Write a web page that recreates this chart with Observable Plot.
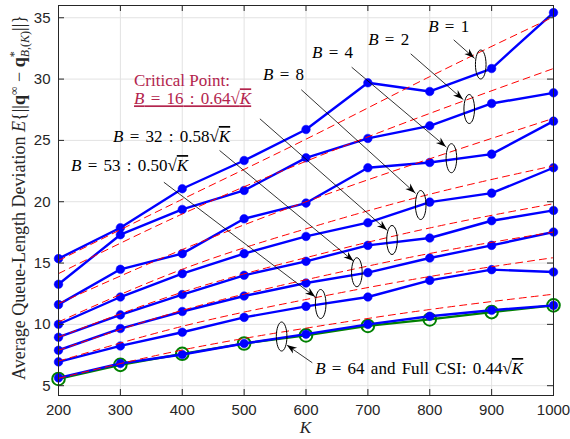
<!DOCTYPE html>
<html><head><meta charset="utf-8">
<script src="https://cdn.jsdelivr.net/npm/d3@7"></script>
<script src="https://cdn.jsdelivr.net/npm/@observablehq/plot@0.6"></script>
<style>
html,body{margin:0;padding:0;background:#fff;}
#chart svg{display:block;}
</style>
</head><body><div id="chart"></div>
<script>
// ---- data ----
const K = [200, 300, 400, 500, 600, 700, 800, 900, 1000];
const B1  = [15.36, 17.88, 21.06, 23.36, 25.89, 29.70, 28.99, 30.86, 35.42];
const B2  = [13.27, 17.31, 19.37, 20.92, 23.58, 25.16, 26.19, 28.01, 28.88];
const B4  = [11.61, 14.49, 15.77, 18.61, 19.89, 22.77, 23.20, 23.88, 26.57];
const B8  = [10.01, 12.23, 14.14, 15.77, 17.17, 18.29, 19.97, 20.70, 22.77];
const B16 = [8.95, 10.77, 12.43, 14.00, 15.14, 16.44, 17.04, 18.45, 19.29];
const B32 = [7.89, 9.66, 11.05, 12.31, 13.37, 14.22, 15.41, 16.44, 17.53];
const B53 = [6.94, 8.24, 9.36, 10.57, 11.47, 12.23, 13.59, 14.46, 14.27];
const B64 = [5.64, 6.81, 7.54, 8.44, 9.20, 10.00, 10.66, 11.15, 11.55];
const fullCSI = [5.55, 6.70, 7.60, 8.44, 9.10, 9.87, 10.40, 11.00, 11.55];
const seriesNames = ["B=1", "B=2", "B=4", "B=8", "B=16", "B=32", "B=53", "B=64"];
const seriesValues = [B1, B2, B4, B8, B16, B32, B53, B64];

// red dashed reference curves (values read at these K)
const fitK = [200, 400, 600, 800, 1000];
const fit1 = [15.2, 20.2, 25.1, 30.2, 35.07];
const fit2 = [14.14, 19.0, 23.3, 27.2, 30.86];
const fit3 = [11.7, 16.1, 20.0, 23.5, 26.8];
const fit4 = [10.2, 14.49, 17.79, 20.61, 22.93];
const fit5 = [8.95, 12.62, 15.44, 17.86, 19.84];
const fit6 = [7.89, 11.14, 13.64, 15.78, 17.53];
const fit7 = [7.0, 9.84, 12.03, 13.9, 15.44];
const fit8 = [5.6, 7.91, 9.69, 11.21, 12.46];
const fitValues = [fit1, fit2, fit3, fit4, fit5, fit6, fit7, fit8];

const xTicks = [200, 300, 400, 500, 600, 700, 800, 900, 1000];
const yTicks = [5, 10, 15, 20, 25, 30, 35];

// annotation anchors (data coordinates)
const bubbleK = [882.4, 863.8, 835, 785.4, 739, 682.2, 623.7, 560.6];
const bubbleV = [31.19, 27.56, 23.55, 19.73, 16.88, 14.25, 11.66, 9.01];
const arrowFromK = [838.7, 769.2, 673.8, 592.4, 525.5, 460.3, 370.3, 610.2];
const arrowFromV = [33.2, 32.06, 30.97, 29.13, 26.76, 24.18, 21.59, 6.87];
const arrowToK = [872.7, 854.4, 826.9, 777.3, 731.5, 677.5, 615.6, 569.8];
const arrowToV = [31.68, 28.31, 24.45, 20.67, 17.65, 15.13, 12.21, 8.28];

// ---- tables ----
const rows = seriesNames.flatMap((name, j) => K.map((k, i) => ({K: k, v: seriesValues[j][i], s: name})));
const csiRows = K.map((k, i) => ({K: k, v: fullCSI[i]}));
const fitRows = fitValues.flatMap((arr, j) => fitK.map((k, i) => ({K: k, v: arr[i], s: "fit" + j})));

// ellipse symbol for annotation bubbles
const ellipseSymbol = {
  draw(ctx) {
    const rx = 5.3, ry = 14.5, c = 0.5523;
    ctx.moveTo(rx, 0);
    ctx.bezierCurveTo(rx, c * ry, c * rx, ry, 0, ry);
    ctx.bezierCurveTo(-c * rx, ry, -rx, c * ry, -rx, 0);
    ctx.bezierCurveTo(-rx, -c * ry, -c * rx, -ry, 0, -ry);
    ctx.bezierCurveTo(c * rx, -ry, rx, -c * ry, rx, 0);
    ctx.closePath();
  }
};

const plot = Plot.plot({
  width: 570, height: 439,
  marginLeft: 58, marginRight: 17, marginTop: 5, marginBottom: 44,
  x: {domain: [200, 1000], ticks: xTicks, tickFormat: d => String(d), tickSize: 0, tickPadding: 9, label: null},
  y: {domain: [4.2, 36], ticks: yTicks, tickFormat: d => String(d), tickSize: 0, tickPadding: 8, label: null},
  style: {fontFamily: "'Liberation Sans', Arial, sans-serif", fontSize: "15px", color: "#262626", background: "white", overflow: "visible"},
  marks: [
    Plot.ruleX(xTicks, {stroke: "#e2e2e2", strokeWidth: 1}),
    Plot.ruleY(yTicks, {stroke: "#e2e2e2", strokeWidth: 1}),
    Plot.line(csiRows, {x: "K", y: "v", stroke: "#008000", strokeWidth: 2.2}),
    Plot.dot(csiRows, {x: "K", y: "v", r: 6.3, stroke: "#008000", strokeWidth: 2, fill: "none"}),
    Plot.line(rows, {x: "K", y: "v", z: "s", stroke: "#0000ff", strokeWidth: 2.4}),
    Plot.dot(rows, {x: "K", y: "v", r: 4.3, fill: "#0000ff", stroke: "#0000ff", strokeWidth: 0.5}),
    Plot.line(fitRows, {x: "K", y: "v", z: "s", stroke: "#ff0000", strokeWidth: 1, strokeDasharray: "7,5", curve: "natural"}),
    Plot.dot(bubbleK, {x: bubbleK, y: bubbleV, symbol: ellipseSymbol, stroke: "#000", strokeWidth: 1, fill: "none"}),
    Plot.link(arrowFromK, {x1: arrowFromK, y1: arrowFromV, x2: arrowToK, y2: arrowToV, stroke: "#000", strokeWidth: 0.8}),
    Plot.frame({stroke: "#262626", strokeWidth: 1}),
    Plot.ruleX(xTicks, {insetTop: 384, stroke: "#262626"}),
    Plot.ruleX(xTicks, {insetBottom: 384, stroke: "#262626"}),
    Plot.ruleY(yTicks, {insetRight: 489, stroke: "#262626"}),
    Plot.ruleY(yTicks, {insetLeft: 489, stroke: "#262626"})
  ]
});
document.getElementById("chart").appendChild(plot);

// ---- annotations drawn with the plot's own scales ----
const xs = plot.scale("x"), ys = plot.scale("y");
const X = v => xs.apply(v), Y = v => ys.apply(v);
const svg = d3.select(plot);
const g = svg.append("g");

// filled arrowheads
arrowToK.forEach((k, i) => {
  const x1 = X(arrowFromK[i]), y1 = Y(arrowFromV[i]);
  const x2 = X(k), y2 = Y(arrowToV[i]);
  const a = Math.atan2(y2 - y1, x2 - x1);
  const ux = Math.cos(a), uy = Math.sin(a), nx = -uy, ny = ux;
  const L = 10, W = 3.6;
  const p = [
    [x2, y2],
    [x2 - L * ux + W * nx, y2 - L * uy + W * ny],
    [x2 - 0.7 * L * ux, y2 - 0.7 * L * uy],
    [x2 - L * ux - W * nx, y2 - L * uy - W * ny]
  ];
  g.append("path").attr("d", "M" + p.map(q => q.join(",")).join("L") + "Z").attr("fill", "#000");
});

const serif = "'Liberation Serif', 'Times New Roman', serif";
function rich(parent, x, y, parts, opts = {}) {
  const t = parent.append("text")
    .attr("x", x).attr("y", y)
    .attr("font-family", serif)
    .attr("font-size", opts.size || 17)
    .attr("fill", opts.color || "#000")
    .attr("text-anchor", opts.anchor || "start");
  if (opts.transform) t.attr("transform", opts.transform);
  if (opts.decoration) t.style("text-decoration", opts.decoration);
  if (opts.wordSpacing != null) t.style("word-spacing", opts.wordSpacing + "px");
  for (const p of parts) {
    const s = t.append("tspan").text(p.t);
    if (p.i) s.attr("font-style", "italic");
    if (p.b) s.attr("font-weight", "bold");
    if (p.fs) s.attr("font-size", p.fs);
    if (p.dy) s.attr("dy", p.dy);
    if (p.dx) s.attr("dx", p.dx);
    if (p.over) s.style("text-decoration", "overline");
  }
  return t;
}
const sqrtK = (coef) => [{t: " : " + coef + "\u221A"}, {t: "K", i: true, over: true}];
const ws = {wordSpacing: 2};

// labels
const labelK = [798.3, 701.3, 610.7, 531.5];
const labelV = [33.8, 32.74, 31.68, 29.88];
const labelB = ["1", "2", "4", "8"];
labelB.forEach((b, i) => rich(g, X(labelK[i]), Y(labelV[i]), [{t: "B", i: true}, {t: " = " + b}], ws));

rich(g, X(322.9), Y(29.4), [{t: "Critical Point:"}], {color: "#b3244d"});
rich(g, X(322.9), Y(27.9), [{t: "B", i: true}, {t: " = 16"}, ...sqrtK("0.64")], {color: "#b3244d", decoration: "underline", wordSpacing: 2});
rich(g, X(288.9), Y(24.83), [{t: "B", i: true}, {t: " = 32"}, ...sqrtK("0.58")], ws);
rich(g, X(221), Y(22.46), [{t: "B", i: true}, {t: " = 53"}, ...sqrtK("0.50")], ws);
rich(g, X(615.6), Y(5.91), [{t: "B", i: true}, {t: " = 64 and Full CSI: 0.44\u221A"}, {t: "K", i: true, over: true}], ws);

// x axis label
rich(g, X(600), 433, [{t: "K", i: true}], {anchor: "middle", size: 17, color: "#262626"});

// y axis label
rich(g, 0, 0, [
  {t: "Average Queue-Length Deviation "},
  {t: "E", i: true},
  {t: "{||"},
  {t: "q", b: true},
  {t: "\u221E", fs: 12, dy: -7},
  {t: " \u2212 ", dy: 7},
  {t: "q", b: true},
  {t: "*", fs: 12, dy: -7},
  {t: "B", i: true, fs: 12, dx: -6, dy: 11},
  {t: ",(", fs: 12},
  {t: "K", i: true, fs: 12},
  {t: ")", fs: 12},
  {t: "||}", dy: -4}
], {anchor: "middle", size: 18, color: "#262626", transform: `translate(${25},${Y(20.3)}) rotate(-90)`});
</script>
</body></html>
